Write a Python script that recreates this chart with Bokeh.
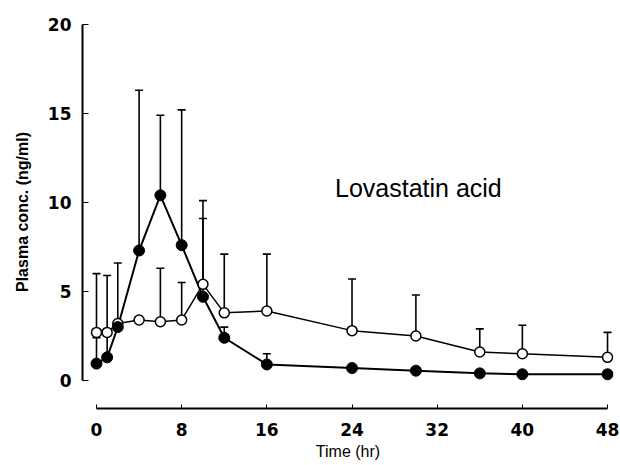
from bokeh.plotting import figure
from bokeh.models import Whisker, TeeHead, ColumnDataSource, Range1d, FixedTicker, Label
from bokeh.embed import file_html
from bokeh.resources import INLINE

# ---- data ----
time_hr = [0, 1, 2, 4, 6, 8, 10, 12, 16, 24, 30, 36, 40, 48]
filled_mean = [0.95, 1.3, 3.0, 7.3, 10.4, 7.6, 4.7, 2.4, 0.9, 0.7, 0.55, 0.4, 0.35, 0.35]
filled_upper = [2.4, 2.5, 6.6, 16.3, 14.9, 15.2, 9.1, 3.0, 1.5, None, None, None, None, None]
open_mean = [2.7, 2.7, 3.2, 3.4, 3.3, 3.4, 5.4, 3.8, 3.9, 2.8, 2.5, 1.6, 1.5, 1.3]
open_upper = [6.0, 5.9, None, None, 6.3, 5.5, 10.1, 7.1, 7.1, 5.7, 4.8, 2.9, 3.1, 2.7]
x_ticks = [0, 8, 16, 24, 32, 40, 48]
y_ticks = [0, 5, 10, 15, 20]
annotation = "Lovastatin acid"
x_title = "Time (hr)"
y_title = "Plasma conc. (ng/ml)"

FONT = "Liberation Sans"
TICKFONT = "DejaVu Sans"

p = figure(width=620, height=465, output_backend="svg", toolbar_location=None,
           x_range=Range1d(-1.315, 48.56), y_range=Range1d(-1.573, 20.5),
           min_border_left=82, min_border_right=7, min_border_top=15, min_border_bottom=57)
p.outline_line_color = None
p.grid.visible = False
p.background_fill_color = "white"
p.border_fill_color = "white"

def bars(mean, upper):
    xs, lo, hi = [], [], []
    for t, m, u in zip(time_hr, mean, upper):
        if u is not None:
            xs.append(t); lo.append(m); hi.append(u)
    return ColumnDataSource(dict(x=xs, lower=lo, upper=hi))

for src in (bars(filled_mean, filled_upper), bars(open_mean, open_upper)):
    w = Whisker(source=src, base="x", lower="lower", upper="upper", dimension="height",
                line_color="black", line_width=1.6,
                upper_head=TeeHead(size=8, line_color="black", line_width=1.6),
                lower_head=None)
    p.add_layout(w)

p.line(time_hr, open_mean, line_color="black", line_width=1.5)
p.line(time_hr, filled_mean, line_color="black", line_width=2)
p.scatter(time_hr, open_mean, marker="circle", size=10, fill_color="white",
          line_color="black", line_width=1.5)
p.scatter(time_hr, filled_mean, marker="circle", size=11, fill_color="black",
          line_color="black")

p.add_layout(Label(x=22.4, y=10.8, text=annotation, text_font=FONT,
                   text_font_size="25px", text_baseline="middle", text_align="left",
                   text_color="black"))

# axes
xa = p.xaxis[0]
xa.ticker = FixedTicker(ticks=x_ticks)
xa.bounds = (0, 48)
xa.axis_line_width = 2
xa.axis_line_color = "black"
xa.major_tick_in = 4
xa.major_tick_out = 0
xa.major_tick_line_color = "black"
xa.minor_tick_line_color = None
xa.major_label_text_font = TICKFONT
xa.major_label_text_font_style = "bold"
xa.major_label_text_font_size = "17px"
xa.major_label_text_color = "black"
xa.major_label_standoff = 14
xa.axis_label = x_title
xa.axis_label_text_font = FONT
xa.axis_label_text_font_style = "normal"
xa.axis_label_text_font_size = "16px"
xa.axis_label_text_color = "black"
xa.axis_label_standoff = 4

ya = p.yaxis[0]
ya.ticker = FixedTicker(ticks=y_ticks)
ya.bounds = (0, 20)
ya.axis_line_width = 2
ya.axis_line_color = "black"
ya.major_tick_in = 6
ya.major_tick_out = 0
ya.major_tick_line_color = "black"
ya.minor_tick_line_color = None
ya.major_label_text_font = TICKFONT
ya.major_label_text_font_style = "bold"
ya.major_label_text_font_size = "17px"
ya.major_label_text_color = "black"
ya.major_label_standoff = 11
ya.axis_label = y_title
ya.axis_label_text_font = FONT
ya.axis_label_text_font_style = "bold"
ya.axis_label_text_font_size = "16px"
ya.axis_label_text_color = "black"
ya.axis_label_standoff = 14

open("out.html", "w").write(file_html(p, INLINE))
